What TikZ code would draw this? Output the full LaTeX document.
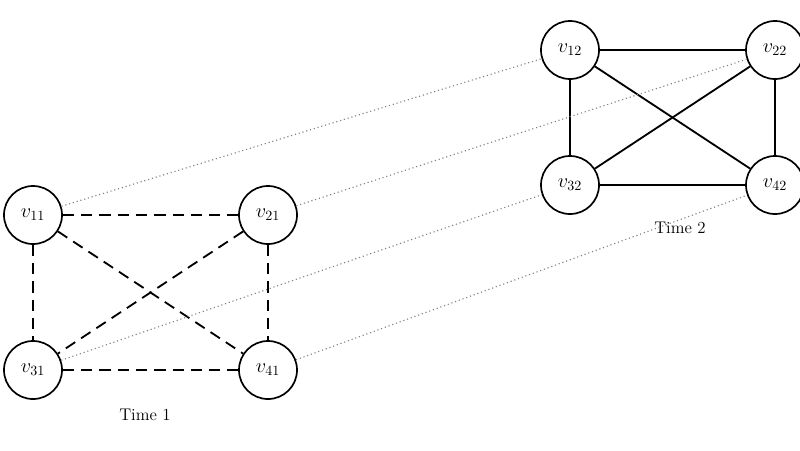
\documentclass[tikz,border=0pt]{standalone}
\begin{document}
\begin{tikzpicture}[x=0.025cm,y=-0.025cm,
  vert/.style={circle,draw,line width=1.2pt,minimum size=1.45cm,inner sep=0pt,font=\Large},
  dash line/.style={dashed,line width=1.3pt,dash pattern=on 8pt off 5pt},
  solid line/.style={line width=1.3pt},
  dot line/.style={dotted,line width=0.8pt,gray}]
\useasboundingbox (0,0) rectangle (800,450);
\node[vert] (v11) at (33,215) {$v_{11}$};
\node[vert] (v21) at (268,215) {$v_{21}$};
\node[vert] (v31) at (33,370) {$v_{31}$};
\node[vert] (v41) at (268,370) {$v_{41}$};
\node[vert] (v12) at (570,50) {$v_{12}$};
\node[vert] (v22) at (775,50) {$v_{22}$};
\node[vert] (v32) at (570,185) {$v_{32}$};
\node[vert] (v42) at (775,185) {$v_{42}$};
\node[font=\large] (t1) at (145,415) {Time 1};
\node[font=\large] (t2) at (680,228) {Time 2};
\foreach \a/\b in {v11/v21,v11/v31,v11/v41,v21/v31,v21/v41,v31/v41}
  \draw[dash line] (\a) -- (\b);
\foreach \a/\b in {v12/v22,v12/v32,v12/v42,v22/v32,v22/v42,v32/v42}
  \draw[solid line] (\a) -- (\b);
\foreach \a/\b in {v11/v12,v21/v22,v31/v32,v41/v42}
  \draw[dot line] (\a) -- (\b);
\end{tikzpicture}
\end{document}
